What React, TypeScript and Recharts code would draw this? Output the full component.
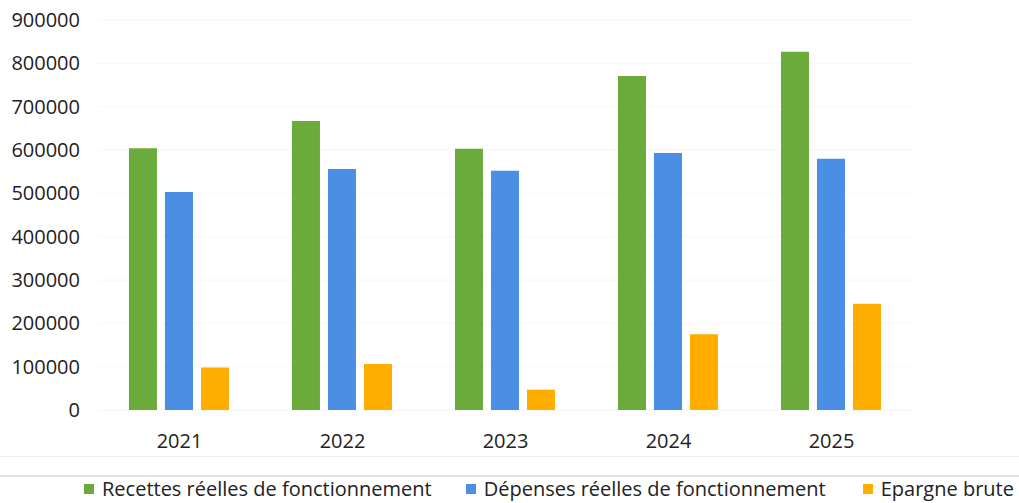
import React from 'react';
import { BarChart, Bar, XAxis, YAxis, CartesianGrid } from 'recharts';

const years = ['2021', '2022', '2023', '2024', '2025'];
const recettes = [604000, 667000, 603000, 771000, 827000];
const depenses = [503000, 556000, 552000, 593000, 580000];
const epargne = [98000, 106000, 47000, 175000, 245000];
const yTicks = [0, 100000, 200000, 300000, 400000, 500000, 600000, 700000, 800000, 900000];

const seriesNames = [
  'Recettes réelles de fonctionnement',
  'Dépenses réelles de fonctionnement',
  'Epargne brute',
];
const colors = ['#6aab3c', '#4a8fe3', '#ffae00'];
const legendGaps = [34, 37, 0];

const data = years.map((y, i) => ({
  year: y,
  recettes: recettes[i],
  depenses: depenses[i],
  epargne: epargne[i],
}));

const FONT = '"Open Sans", sans-serif';

export default function App() {
  return (
    <div style={{ position: 'absolute', left: 0, top: 0, width: 1019, height: 503, background: '#fff', fontFamily: FONT, overflow: 'hidden' }}>
      <BarChart
        width={1019}
        height={503}
        data={data}
        margin={{ top: 20, right: 106, left: 0, bottom: 53 }}
        barCategoryGap="19%"
        barGap={8}
      >
        <CartesianGrid vertical={false} stroke="#f8f6f6" />
        <XAxis
          dataKey="year"
          axisLine={false}
          tickLine={false}
          tickSize={0}
          tickMargin={24}
          height={40}
          tick={{ fill: '#222', fontSize: 20, fontFamily: FONT }}
        />
        <YAxis
          domain={[0, 900000]}
          ticks={yTicks}
          axisLine={false}
          tickLine={false}
          tickSize={0}
          tickMargin={18}
          width={98}
          interval={0}
          tick={{ fill: '#222', fontSize: 20, fontFamily: FONT }}
        />
        <Bar dataKey="recettes" name={seriesNames[0]} fill={colors[0]} isAnimationActive={false} />
        <Bar dataKey="depenses" name={seriesNames[1]} fill={colors[1]} isAnimationActive={false} />
        <Bar dataKey="epargne" name={seriesNames[2]} fill={colors[2]} isAnimationActive={false} />
      </BarChart>
      <div style={{ position: 'absolute', left: 0, top: 456, width: 1019, borderTop: '1px solid #efefef' }} />
      <div style={{ position: 'absolute', left: 0, top: 475, width: 1019, borderTop: '2px solid #e2e2e2' }} />
      <div
        style={{
          position: 'absolute',
          left: 84,
          top: 478,
          height: 21,
          display: 'flex',
          alignItems: 'center',
          fontSize: 20,
          color: '#222',
          whiteSpace: 'nowrap',
          lineHeight: '21px',
        }}
      >
        {seriesNames.map((n, i) => (
          <div key={n} style={{ display: 'flex', alignItems: 'center', marginRight: legendGaps[i] }}>
            <span style={{ display: 'inline-block', width: 10, height: 10, background: colors[i], marginRight: 8 }} />
            <span>{n}</span>
          </div>
        ))}
      </div>
    </div>
  );
}
